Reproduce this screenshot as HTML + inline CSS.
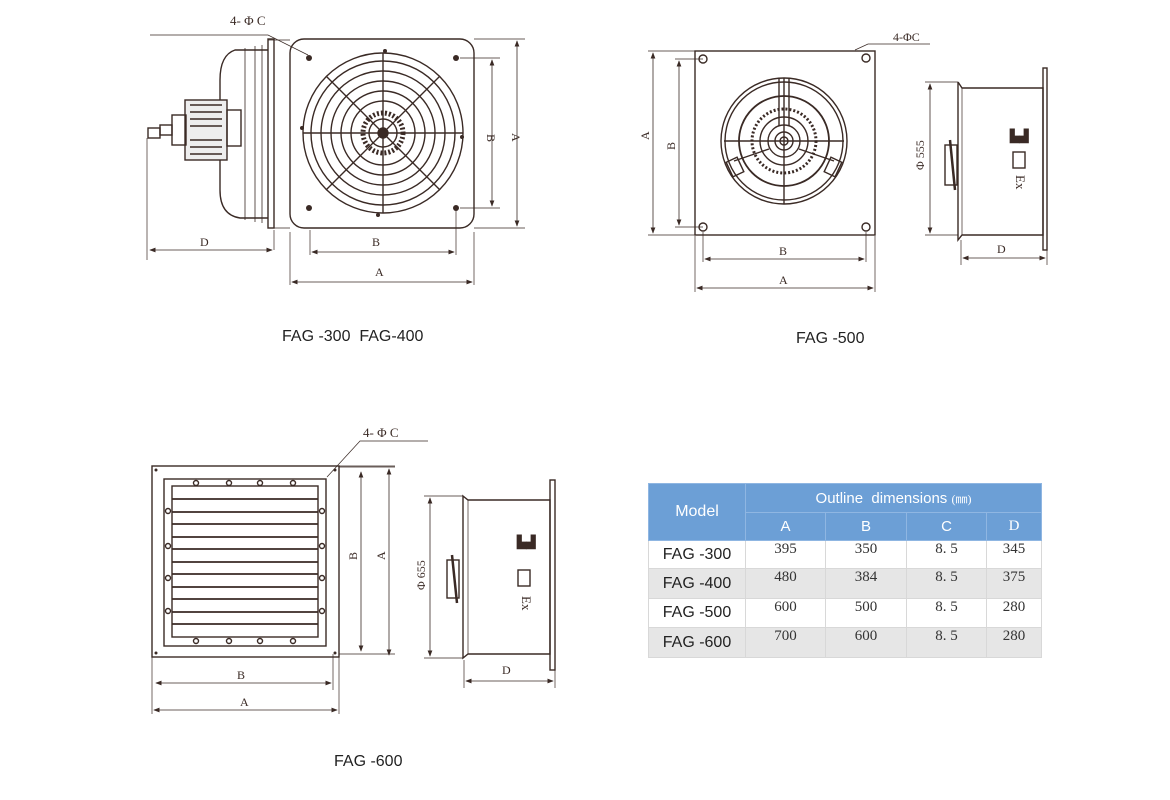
<!DOCTYPE html>
<html><head><meta charset="utf-8"><style>
html,body{margin:0;padding:0;background:#fff;width:1170px;height:800px;overflow:hidden}
svg{position:absolute;left:0;top:0}
.t{font-family:"Liberation Serif",serif;fill:#3a2a25}
.s{font-family:"Liberation Sans",sans-serif;fill:#222}
table{position:absolute;left:648px;top:483px;border-collapse:collapse;font-family:"Liberation Serif",serif}
td{padding:0;text-align:center;border:1px solid #d8d8d8}
.h{background:#6c9fd6;color:#fff;font-family:"Liberation Sans",sans-serif;font-size:15px;border-color:#8fb6e2}
.m{font-family:"Liberation Sans",sans-serif;font-size:16px;color:#222}
.n{font-size:15px;color:#333;vertical-align:top}
.g td{background:#e6e6e6}
</style></head><body>
<svg width="1170" height="800" viewBox="0 0 1170 800" fill="none" stroke="#3a2a25" stroke-width="1.4">
<defs><marker id="a" markerWidth="8" markerHeight="6" refX="7" refY="3" orient="auto-start-reverse"><path d="M0,0L8,3L0,6z" fill="#3a2a25" stroke="none"/></marker></defs>
<!-- FAG-300/400 front -->
<rect x="290" y="39" width="184" height="189" rx="14"/>
<g transform="translate(383,133)">
<circle r="80"/><circle r="72"/><circle r="62"/><circle r="52"/><circle r="42"/><circle r="32"/><circle r="20" stroke-width="5" stroke-dasharray="2 2"/><circle r="14"/><circle r="5" fill="#3a2a25"/>
<path d="M-80,0H80M0,-80V80M-57,-57L57,57M57,-57L-57,57"/>
</g>
<g fill="#3a2a25" stroke="none"><circle cx="309" cy="58" r="3"/><circle cx="456" cy="58" r="3"/><circle cx="309" cy="208" r="3"/><circle cx="456" cy="208" r="3"/><circle cx="385" cy="51" r="2"/><circle cx="378" cy="215" r="2"/><circle cx="302" cy="128" r="2"/><circle cx="462" cy="137" r="2"/></g>
<path d="M268,40H290M268,228H290" stroke-width=".7"/>
<path d="M150,35H268L308,55" stroke-width=".7"/>
<text class="t" x="230" y="25" font-size="13" stroke="none">4-  Φ C</text>
<!-- side -->
<rect x="268" y="39" width="6" height="189"/>
<path d="M268,50H235Q220,55 220,80V190Q220,215 240,218H268"/>
<path d="M245,48V220M255,46V222M262,45V223" stroke-width=".8"/>
<rect x="185" y="100" width="42" height="60" fill="#eee"/>
<path d="M190,105H222M190,112H222M190,119H222M190,126H222M190,140H222M190,147H222M190,154H222" stroke-width="1.5"/>
<rect x="172" y="115" width="14" height="30"/><rect x="160" y="125" width="12" height="10"/><rect x="148" y="128" width="12" height="10"/>
<rect x="227" y="110" width="14" height="36"/>
<path d="M147,138V260M274,230V250" stroke-width=".7"/>
<path d="M150,250H272" marker-start="url(#a)" marker-end="url(#a)" stroke-width=".8"/>
<text class="t" x="200" y="246" font-size="12" stroke="none">D</text>
<path d="M310,230V255M456,210V255M290,232V285M474,232V285" stroke-width=".7"/>
<path d="M312,252H454" marker-start="url(#a)" marker-end="url(#a)" stroke-width=".8"/>
<path d="M292,282H472" marker-start="url(#a)" marker-end="url(#a)" stroke-width=".8"/>
<text class="t" x="372" y="246" font-size="12" stroke="none">B</text>
<text class="t" x="375" y="276" font-size="12" stroke="none">A</text>
<path d="M460,58H500M460,208H500M474,39H525M474,228H525" stroke-width=".7"/>
<path d="M492,60V206" marker-start="url(#a)" marker-end="url(#a)" stroke-width=".8"/>
<path d="M517,41V226" marker-start="url(#a)" marker-end="url(#a)" stroke-width=".8"/>
<text class="t" transform="translate(487,134) rotate(90)" font-size="12" stroke="none">B</text>
<text class="t" transform="translate(512,133) rotate(90)" font-size="12" stroke="none">A</text>
<text class="s" x="282" y="341" font-size="16" stroke="none">FAG -300&#160;&#160;FAG-400</text>
<!-- FAG-500 -->
<rect x="695" y="51" width="180" height="184"/>
<circle cx="703" cy="59" r="4"/><circle cx="866" cy="58" r="4"/><circle cx="703" cy="227" r="4"/><circle cx="866" cy="227" r="4"/>
<g transform="translate(784,141)"><circle r="63"/><circle r="59"/><circle r="45" stroke-width="1.8"/><circle r="32" stroke-dasharray="2 2" stroke-width="3"/><circle r="24"/><circle r="16"/><circle r="9"/><circle r="4"/><path d="M-60,0H60M0,-63V63M-5,-63V-15M5,-63V-15"/><path d="M-50,20L-15,8M50,20L15,8"/><rect x="-55" y="18" width="12" height="16" transform="rotate(-25 -49 26)"/><rect x="43" y="18" width="12" height="16" transform="rotate(25 49 26)"/></g>
<path d="M855,50L868,44H930" stroke-width=".7"/>
<text class="t" x="893" y="41" font-size="12" stroke="none">4-ΦC</text>
<path d="M648,51H695M648,235H695M675,59H703M675,227H703" stroke-width=".7"/>
<path d="M653,53V233" marker-start="url(#a)" marker-end="url(#a)" stroke-width=".8"/>
<path d="M679,61V225" marker-start="url(#a)" marker-end="url(#a)" stroke-width=".8"/>
<text class="t" transform="translate(649,140) rotate(-90)" font-size="12" stroke="none">A</text>
<text class="t" transform="translate(675,150) rotate(-90)" font-size="12" stroke="none">B</text>
<path d="M703,232V262M866,232V262M695,236V292M875,236V292" stroke-width=".7"/>
<path d="M705,259H864" marker-start="url(#a)" marker-end="url(#a)" stroke-width=".8"/>
<path d="M697,288H873" marker-start="url(#a)" marker-end="url(#a)" stroke-width=".8"/>
<text class="t" x="779" y="255" font-size="12" stroke="none">B</text>
<text class="t" x="779" y="284" font-size="12" stroke="none">A</text>
<path d="M958,82L962,88H1043V235H962L958,240V82" /><path d="M962,88V235" stroke-width=".7"/>
<rect x="1043" y="68" width="4" height="182"/>
<rect x="945" y="145" width="12" height="40"/><path d="M950,140L955,190" stroke-width="2.5"/>
<rect x="1013" y="152" width="12" height="16"/>
<text class="t" x="1010" y="140" font-size="12" font-weight="bold" stroke="none">▙▟</text>
<text class="t" transform="translate(1016,175) rotate(90)" font-size="13" stroke="none">Ex</text>
<path d="M925,82H958M925,235H958M961,240V265M1047,250V265" stroke-width=".7"/>
<path d="M930,84V233" marker-start="url(#a)" marker-end="url(#a)" stroke-width=".8"/>
<path d="M963,258H1045" marker-start="url(#a)" marker-end="url(#a)" stroke-width=".8"/>
<text class="t" transform="translate(924,170) rotate(-90)" font-size="12" stroke="none">Φ 555</text>
<text class="t" x="997" y="253" font-size="12" stroke="none">D</text>
<text class="s" x="796" y="343" font-size="16" stroke="none">FAG -500</text>
<!-- FAG-600 -->
<rect x="152" y="466" width="187" height="191"/>
<rect x="164" y="479" width="162" height="167"/>
<rect x="172" y="486" width="146" height="151"/>
<g stroke-width="1.8"><path d="M172,499H318M172,512H318M172,524H318M172,537H318M172,549H318M172,562H318M172,574H318M172,587H318M172,599H318M172,612H318M172,624H318"/></g>
<g fill="#fff"><circle cx="196" cy="483" r="2.5"/><circle cx="229" cy="483" r="2.5"/><circle cx="260" cy="483" r="2.5"/><circle cx="293" cy="483" r="2.5"/><circle cx="196" cy="641" r="2.5"/><circle cx="229" cy="641" r="2.5"/><circle cx="260" cy="641" r="2.5"/><circle cx="293" cy="641" r="2.5"/><circle cx="168" cy="511" r="2.5"/><circle cx="168" cy="546" r="2.5"/><circle cx="168" cy="578" r="2.5"/><circle cx="168" cy="611" r="2.5"/><circle cx="322" cy="511" r="2.5"/><circle cx="322" cy="546" r="2.5"/><circle cx="322" cy="578" r="2.5"/><circle cx="322" cy="611" r="2.5"/></g>
<g fill="#3a2a25" stroke="none"><circle cx="156" cy="470" r="1.5"/><circle cx="335" cy="470" r="1.5"/><circle cx="156" cy="653" r="1.5"/><circle cx="335" cy="653" r="1.5"/></g>
<path d="M327,477L360,441H428" stroke-width=".7"/>
<text class="t" x="363" y="437" font-size="13" stroke="none">4-  Φ C</text>
<path d="M339,467H395M339,654H395M339,466H395" stroke-width=".7"/>
<path d="M361,472V651" marker-start="url(#a)" marker-end="url(#a)" stroke-width=".8"/>
<path d="M389,469V655" marker-start="url(#a)" marker-end="url(#a)" stroke-width=".8"/>
<text class="t" transform="translate(357,560) rotate(-90)" font-size="12" stroke="none">B</text>
<text class="t" transform="translate(385,560) rotate(-90)" font-size="12" stroke="none">A</text>
<path d="M152,657V714M333,654V690M339,657V714" stroke-width=".7"/>
<path d="M156,683H331" marker-start="url(#a)" marker-end="url(#a)" stroke-width=".8"/>
<path d="M154,710H337" marker-start="url(#a)" marker-end="url(#a)" stroke-width=".8"/>
<text class="t" x="237" y="679" font-size="12" stroke="none">B</text>
<text class="t" x="240" y="706" font-size="12" stroke="none">A</text>
<path d="M463,496L468,500H550V654H468L463,658Z"/><path d="M468,500V654" stroke-width=".7"/>
<rect x="550" y="480" width="5" height="190"/>
<rect x="447" y="560" width="12" height="38"/><path d="M452,555L457,603" stroke-width="2.5"/>
<rect x="518" y="570" width="12" height="16"/>
<text class="t" x="517" y="546" font-size="12" font-weight="bold" stroke="none">▙▟</text>
<text class="t" transform="translate(522,596) rotate(90)" font-size="13" stroke="none">Ex</text>
<path d="M424,496H463M424,658H463M464,660V688M555,670V688" stroke-width=".7"/>
<path d="M430,498V656" marker-start="url(#a)" marker-end="url(#a)" stroke-width=".8"/>
<path d="M466,681H553" marker-start="url(#a)" marker-end="url(#a)" stroke-width=".8"/>
<text class="t" transform="translate(425,590) rotate(-90)" font-size="12" stroke="none">Φ 655</text>
<text class="t" x="502" y="674" font-size="12" stroke="none">D</text>
<text class="s" x="334" y="766" font-size="16" stroke="none">FAG -600</text>
</svg>
<table>
<tr style="height:29px"><td class="h" rowspan="2" style="width:96px;font-size:16px">Model</td><td class="h" colspan="4">Outline&#160; dimensions <span style="font-family:'Liberation Serif';font-size:12px">(㎜)</span></td></tr>
<tr style="height:28px"><td class="h" style="width:79px">A</td><td class="h" style="width:80px">B</td><td class="h" style="width:79px">C</td><td class="h" style="width:54px;font-family:'Liberation Serif'">D</td></tr>
<tr style="height:28px"><td class="m">FAG -300</td><td class="n">395</td><td class="n">350</td><td class="n">8. 5</td><td class="n">345</td></tr>
<tr class="g" style="height:30px"><td class="m">FAG -400</td><td class="n">480</td><td class="n">384</td><td class="n">8. 5</td><td class="n">375</td></tr>
<tr style="height:29px"><td class="m">FAG -500</td><td class="n">600</td><td class="n">500</td><td class="n">8. 5</td><td class="n">280</td></tr>
<tr class="g" style="height:30px"><td class="m">FAG -600</td><td class="n">700</td><td class="n">600</td><td class="n">8. 5</td><td class="n">280</td></tr>
</table>
</body></html>
